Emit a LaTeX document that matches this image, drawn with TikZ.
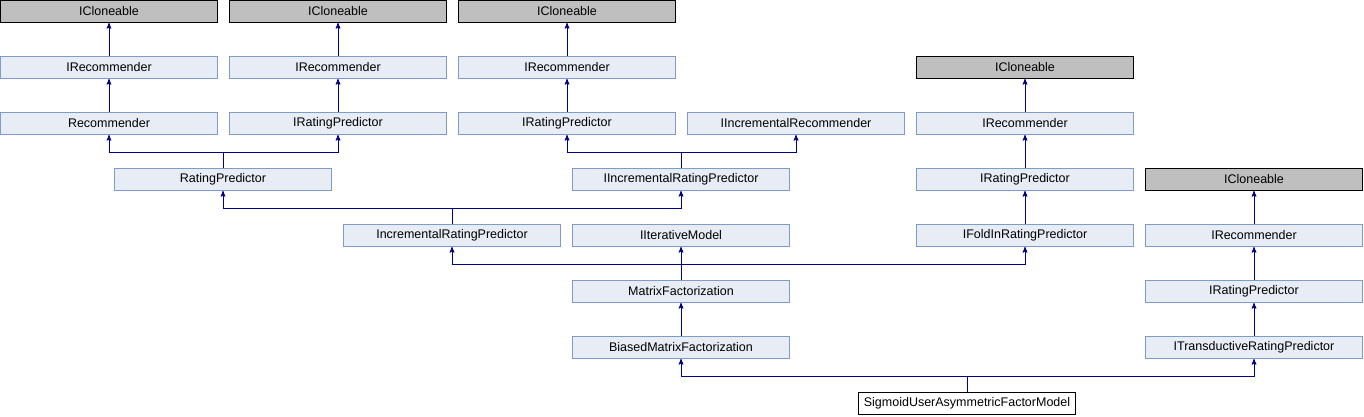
\documentclass[tikz,border=0pt]{standalone}
\usepackage{fontspec}
\setmainfont{Liberation Sans}
\usetikzlibrary{arrows}
\definecolor{boxfill}{HTML}{E8ECF5}
\definecolor{boxline}{HTML}{7F9BCB}
\definecolor{extfill}{HTML}{BFBFBF}
\definecolor{edgeblue}{HTML}{00008B}

\begin{document}
\begin{tikzpicture}[x=1pt,y=-1pt,->,>=stealth',
  class node/.style={rectangle,draw=boxline,fill=boxfill,line width=1pt,minimum width=217pt,minimum height=22pt,inner sep=0pt,font=\fontsize{12.5}{14}\selectfont},
  ext node/.style={class node,draw=black,fill=extfill},
  main node/.style={class node,draw=black,fill=white},
  link/.style={draw=edgeblue,line width=1pt},
  inherit/.style={to path={(\tikztostart.north) -- ++(0,-16) -| (\tikztotarget.south)}}]

  \useasboundingbox (0,0) rectangle (1364,416);

  \node[ext node] (icl1) at (109,11.5) {ICloneable};
  \node[ext node] (icl2) at (338,11.5) {ICloneable};
  \node[ext node] (icl3) at (567,11.5) {ICloneable};
  \node[class node] (irec1) at (109,67.5) {IRecommender};
  \node[class node] (irec2) at (338,67.5) {IRecommender};
  \node[class node] (irec3) at (567,67.5) {IRecommender};
  \node[ext node] (icl4) at (1025,67.5) {ICloneable};
  \node[class node] (rec) at (109,123.5) {Recommender};
  \node[class node] (irp2) at (338,123.5) {IRatingPredictor};
  \node[class node] (irp3) at (567,123.5) {IRatingPredictor};
  \node[class node] (iincrec) at (796,123.5) {IIncrementalRecommender};
  \node[class node] (irec4) at (1025,123.5) {IRecommender};
  \node[class node] (rp) at (223,179.5) {RatingPredictor};
  \node[class node] (iirp) at (681,179.5) {IIncrementalRatingPredictor};
  \node[class node] (irp4) at (1025,179.5) {IRatingPredictor};
  \node[ext node] (icl5) at (1254,179.5) {ICloneable};
  \node[class node] (incrp) at (452,235.5) {IncrementalRatingPredictor};
  \node[class node] (iiter) at (681,235.5) {IIterativeModel};
  \node[class node] (ifold) at (1025,235.5) {IFoldInRatingPredictor};
  \node[class node] (irec5) at (1254,235.5) {IRecommender};
  \node[class node] (mf) at (681,291.5) {MatrixFactorization};
  \node[class node] (irp5) at (1254,291.5) {IRatingPredictor};
  \node[class node] (bmf) at (681,347.5) {BiasedMatrixFactorization};
  \node[class node] (itrans) at (1254,347.5) {ITransductiveRatingPredictor};
  \node[main node] (sig) at (967,403.5) {SigmoidUserAsymmetricFactorModel};

  \path[link]
    (irec1) edge (icl1)
    (rec) edge (irec1)
    (irec2) edge (icl2)
    (irp2) edge (irec2)
    (irec3) edge (icl3)
    (irp3) edge (irec3)
    (irec4) edge (icl4)
    (irp4) edge (irec4)
    (ifold) edge (irp4)
    (irec5) edge (icl5)
    (irp5) edge (irec5)
    (itrans) edge (irp5)
    (bmf) edge (mf)
    (rp) edge[inherit] (rec)
         edge[inherit] (irp2)
    (iirp) edge[inherit] (irp3)
           edge[inherit] (iincrec)
    (incrp) edge[inherit] (rp)
            edge[inherit] (iirp)
    (mf) edge[inherit] (incrp)
         edge[inherit] (iiter)
         edge[inherit] (ifold)
    (sig) edge[inherit] (bmf)
          edge[inherit] (itrans);
\end{tikzpicture}
\end{document}
